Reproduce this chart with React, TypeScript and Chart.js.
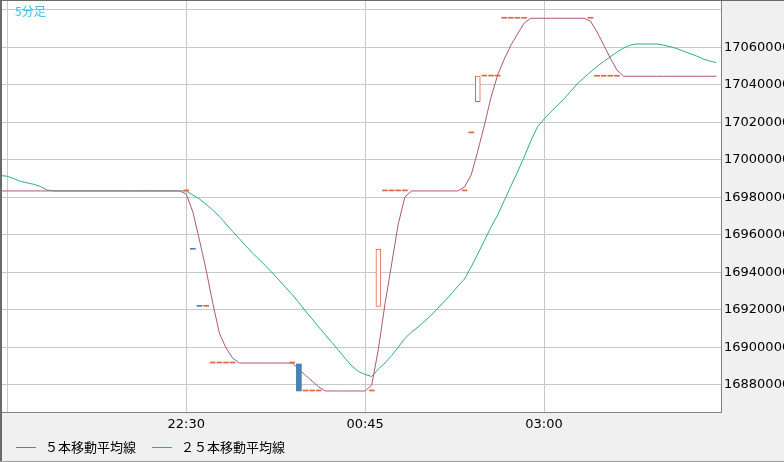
import React, { useEffect, useRef } from 'react';
import { Chart, registerables } from 'chart.js';

Chart.register(...registerables);

// bar position 0 = 20:10, one position per 5-minute bar
const tickBars = [1, 28, 55, 82];
const tickLabels = ['', '22:30', '00:45', '03:00'];

const priceTicks = [
  16880000, 16900000, 16920000, 16940000, 16960000, 16980000,
  17000000, 17020000, 17040000, 17060000, 17080000,
];

// 5 bar moving average, one value per bar position
const ma5 = [
  16983400, 16983400, 16983400, 16983400, 16983400, 16983400, 16983400, 16983400,
  16983400, 16983400, 16983400, 16983400, 16983400, 16983400, 16983400, 16983400,
  16983400, 16983400, 16983400, 16983400, 16983400, 16983400, 16983400, 16983400,
  16983400, 16983400, 16983400, 16983400,
  16981800, 16972200, 16957200, 16941300, 16923700, 16907700, 16899700, 16894400,
  16891700, 16891700, 16891700, 16891700, 16891700, 16891700, 16891700, 16891700, 16891700,
  16888500, 16885100, 16882100, 16878900,
  16876800, 16876800, 16876800, 16876800, 16876800, 16876800, 16876800,
  16880000, 16899200, 16923200, 16944500, 16965800, 16980200,
  16983400, 16983400, 16983400, 16983400, 16983400, 16983400, 16983400, 16983400,
  16985500, 16991900, 17004700, 17018500, 17033400, 17045200, 17053700, 17061100,
  17067000, 17072900,
  17075400, 17075400, 17075400, 17075400, 17075400, 17075400, 17075400, 17075400, 17075400,
  17073900, 17068100, 17061100, 17054200, 17047800,
  17044500, 17044500, 17044500, 17044500, 17044500, 17044500, 17044500, 17044500,
  17044500, 17044500, 17044500, 17044500, 17044500, 17044500, 17044500,
];

// 25 bar moving average
const ma25 = [
  16991600, 16991200, 16989900, 16988500, 16987700, 16986900, 16985800, 16983900,
  16983400, 16983400, 16983400, 16983400, 16983400, 16983400, 16983400, 16983400,
  16983400, 16983400, 16983400, 16983400, 16983400, 16983400, 16983400, 16983400,
  16983400, 16983400, 16983400, 16983400, 16983400,
  16981200, 16979100, 16976200, 16973200, 16969800, 16965800, 16961800, 16958000,
  16954100, 16950300, 16946900, 16943400, 16939700, 16935900, 16931900, 16928200,
  16923900, 16919400, 16915200, 16910900, 16906600, 16902600, 16898400, 16894100,
  16890100, 16887200, 16885600, 16884500, 16888500, 16891700, 16895700, 16900200,
  16904800, 16908200, 16910900, 16914100, 16917300, 16921000, 16924700, 16928500,
  16932700, 16936500, 16942900, 16949800, 16957000, 16964200, 16970600, 16978300,
  16986000, 16993500, 17001500, 17010000, 17017500, 17021700, 17025400, 17028900,
  17032400, 17036400, 17040400, 17043600, 17046800, 17049700, 17052400, 17054800,
  17057400, 17059500, 17061100, 17061700, 17061700, 17061700, 17061700, 17061100,
  17060300, 17059300, 17057900, 17056600, 17055300, 17053700, 17052600, 17051800,
];

// bars that traded
const candleBars = [
  28, 29, 30, 31, 32, 33, 34, 35,
  44, 45, 46, 47, 48,
  56, 57, 58, 59, 60, 61,
  70, 71, 72, 73, 74, 75,
  76, 77, 78, 79,
  89, 90, 91, 92, 93,
];
const candleOpen = [
  16983400, 16952500, 16922100, 16921900, 16891700, 16891700, 16891700, 16891700,
  16891700, 16891200, 16876800, 16876800, 16876800,
  16876800, 16921900, 16983400, 16983400, 16983400, 16983400,
  16983400, 17014300, 17030900, 17044600, 17044600, 17044600,
  17075400, 17075400, 17075400, 17075400,
  17075400, 17044500, 17044500, 17044500, 17044500,
];
const candleClose = [
  16983400, 16952300, 16921900, 16921900, 16891700, 16891700, 16891700, 16891700,
  16891700, 16876800, 16876800, 16876800, 16876800,
  16876800, 16952400, 16983400, 16983400, 16983400, 16983400,
  16983400, 17014300, 17044600, 17044600, 17044600, 17044600,
  17075400, 17075400, 17075400, 17075400,
  17075400, 17044500, 17044500, 17044500, 17044500,
];

const UP = '#e0643c';
const DOWN = '#4682b4';
const MA5_COLOR = '#b0567f';
const MA25_COLOR = '#2ab07f';

const axisFont = { family: '"DejaVu Sans", sans-serif', size: 13 };

// short legend line, drawn as an image point style
const legendLine = (color: string) => {
  const c = document.createElement('canvas');
  c.width = 20;
  c.height = 1;
  const g = c.getContext('2d');
  if (g) {
    g.fillStyle = color;
    g.fillRect(0, 0, 20, 1);
  }
  return c;
};

const framePlugin = {
  id: 'frame',
  beforeDraw(chart: any) {
    const { ctx, chartArea, width, height } = chart;
    ctx.save();
    ctx.fillStyle = '#f0f0f0';
    ctx.fillRect(0, 0, width, height);
    ctx.fillStyle = '#ffffff';
    ctx.fillRect(chartArea.left, chartArea.top, chartArea.right - chartArea.left, chartArea.bottom - chartArea.top);
    ctx.restore();
  },
  afterDraw(chart: any) {
    const { ctx, width, height } = chart;
    ctx.save();
    ctx.fillStyle = '#6a6a6a';
    ctx.fillRect(0, 0, width, 1);
    ctx.fillRect(0, 0, 2, height);
    ctx.fillStyle = '#a0a0a0';
    ctx.fillRect(0, height - 1, width, 1);
    ctx.font = '12px "Noto Sans CJK JP", sans-serif';
    ctx.fillStyle = '#3fbcec';
    ctx.textBaseline = 'middle';
    ctx.fillText('5分足', 15, 11);
    ctx.restore();
  },
};

const candleColor = (k: number) => {
  const o = candleOpen[k];
  const c = candleClose[k];
  if (c > o) return '#ffffff';
  if (c < o) return DOWN;
  return UP;
};

const App: React.FC = () => {
  const chartRef = useRef<HTMLCanvasElement>(null);
  const chartInstance = useRef<Chart | null>(null);

  useEffect(() => {
    document.body.style.margin = '0';
    if (!chartRef.current) return;
    if (chartInstance.current) chartInstance.current.destroy();
    const ctx = chartRef.current.getContext('2d');
    if (!ctx) return;

    chartInstance.current = new Chart(ctx, {
      type: 'line',
      data: {
        datasets: [
          {
            type: 'bar',
            label: 'candles',
            order: 0,
            data: candleBars.map((p, k) => ({ x: p, y: [candleOpen[k], candleClose[k]] })) as any,
            barThickness: 5,
            minBarLength: 1,
            borderSkipped: false,
            grouped: false,
            backgroundColor: (c: any) => (c.dataIndex === undefined ? UP : candleColor(c.dataIndex)),
            borderColor: UP,
            borderWidth: (c: any) =>
              c.dataIndex !== undefined && candleClose[c.dataIndex] > candleOpen[c.dataIndex] ? 1 : 0,
          } as any,
          {
            label: '５本移動平均線',
            order: 1,
            data: ma5.map((v, p) => ({ x: p, y: v })),
            borderColor: MA5_COLOR,
            backgroundColor: MA5_COLOR,
            borderWidth: 1,
            pointRadius: 0,
            pointHoverRadius: 0,
            pointStyle: legendLine(MA5_COLOR) as any,
            tension: 0,
          },
          {
            label: '２５本移動平均線',
            order: 1,
            data: ma25.map((v, p) => ({ x: p, y: v })),
            borderColor: MA25_COLOR,
            backgroundColor: MA25_COLOR,
            borderWidth: 1,
            pointRadius: 0,
            pointHoverRadius: 0,
            pointStyle: legendLine(MA25_COLOR) as any,
            tension: 0,
          },
        ],
      },
      options: {
        responsive: false,
        animation: false,
        events: [],
        layout: { padding: { left: 0, top: 1, right: 0, bottom: 0 } },
        scales: {
          x: {
            type: 'linear',
            min: -0.1,
            max: 108.7,
            offset: false,
            afterBuildTicks: (s: any) => {
              s.ticks = tickBars.map((v) => ({ value: v }));
            },
            afterFit: (s: any) => {
              s.height = 15;
              s.paddingLeft = 0;
              s.paddingRight = 0;
            },
            grid: { color: '#c8c8c8', drawTicks: false, offset: false },
            border: { color: '#808080' },
            ticks: {
              // mirrored so the labels are not clipped to the short axis box
              mirror: true,
              padding: -20.8,
              maxRotation: 0,
              autoSkip: false,
              color: '#000',
              font: axisFont,
              callback: (_v: any, i: number) => tickLabels[i],
            },
          },
          y: {
            position: 'right',
            min: 16865600,
            max: 17084600,
            afterBuildTicks: (s: any) => {
              s.ticks = priceTicks.map((v) => ({ value: v }));
            },
            afterFit: (s: any) => {
              s.width = 63;
              s.paddingTop = 0;
              s.paddingBottom = 0;
            },
            grid: { color: '#c8c8c8', drawTicks: false },
            border: { color: '#808080' },
            ticks: {
              padding: 3,
              color: '#000',
              font: axisFont,
              callback: (v: any) => (v >= 17080000 ? '' : String(v)),
            },
          },
        },
        plugins: {
          tooltip: { enabled: false },
          legend: {
            position: 'bottom',
            align: 'start',
            maxHeight: 35,
            labels: {
              usePointStyle: true,
              pointStyleWidth: 25,
              padding: 13.5,
              color: '#000',
              font: { family: '"Noto Sans CJK JP", sans-serif', size: 13 },
              filter: (item: any) => item.datasetIndex > 0,
            },
          },
        },
      } as any,
      plugins: [framePlugin],
    });

    return () => {
      if (chartInstance.current) {
        chartInstance.current.destroy();
        chartInstance.current = null;
      }
    };
  }, []);

  return (
    <div style={{ width: 784, height: 462 }}>
      <canvas ref={chartRef} width={784} height={462} style={{ display: 'block' }}></canvas>
    </div>
  );
};

export default App;
